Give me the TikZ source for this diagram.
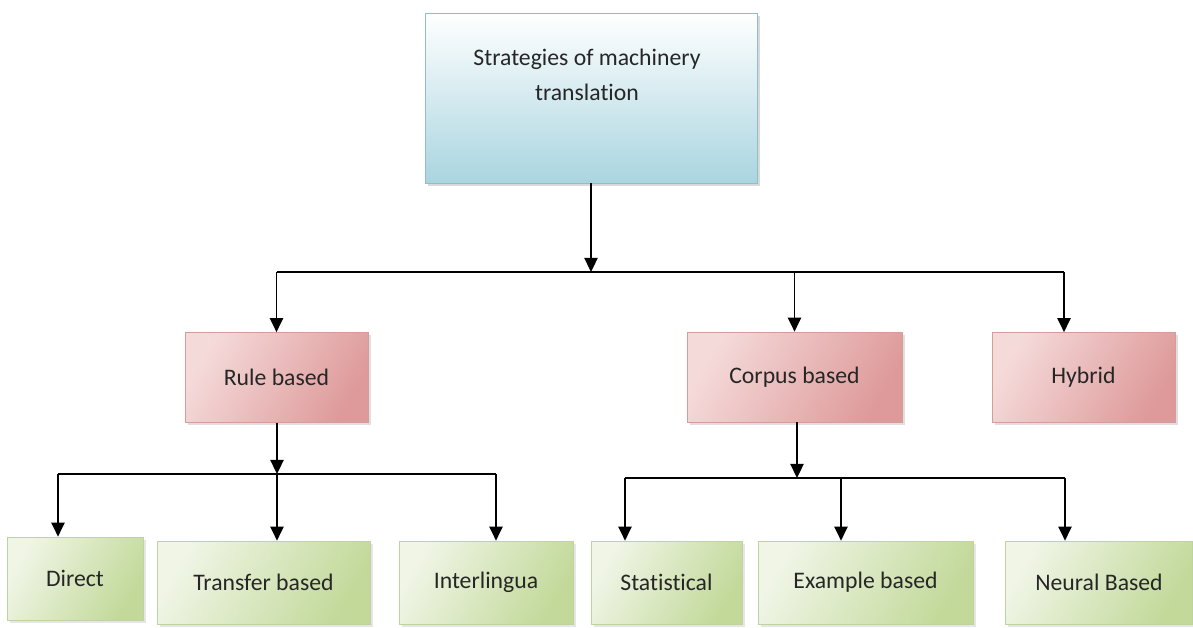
\documentclass[tikz,border=0pt]{standalone}
\usepackage{fontspec}
\setmainfont[Ligatures=NoCommon]{Carlito}
\usetikzlibrary{arrows.meta,shadows}
\definecolor{blueedge}{HTML}{93BCC7}
\definecolor{bluefill}{HTML}{A9D5E0}
\definecolor{pinkedge}{HTML}{D59C9C}
\definecolor{pinklight}{HTML}{F5DADA}
\definecolor{pinkdark}{HTML}{DE9A9A}
\definecolor{greenedge}{HTML}{BFD2A2}
\definecolor{greenlight}{HTML}{F0F5E6}
\definecolor{greendark}{HTML}{C2D99A}
\begin{document}
\begin{tikzpicture}[x=0.02cm, y=-0.02cm,
  font=\fontsize{13.5}{20}\selectfont, text=black!85,
  bluebox/.style={rectangle, draw=blueedge, top color=white, bottom color=bluefill,
    drop shadow={opacity=0.3, shadow xshift=1.5pt, shadow yshift=-1.5pt}},
  pinkbox/.style={rectangle, draw=pinkedge, left color=pinklight, right color=pinkdark,
    shading angle=60, minimum height=1.8cm,
    drop shadow={opacity=0.25, shadow xshift=1.5pt, shadow yshift=-1.5pt}},
  greenbox/.style={rectangle, draw=greenedge, left color=greenlight, right color=greendark,
    shading angle=60, minimum height=1.66cm,
    drop shadow={opacity=0.2, shadow xshift=1.5pt, shadow yshift=-1.5pt}},
  arr/.style={-{Triangle[width=7.5pt,length=8pt]}, line width=1pt},
  bus/.style={line width=1pt}]
\useasboundingbox (0,0) rectangle (1193,627);
\node[bluebox, minimum width=6.64cm, minimum height=3.4cm] (mt0) at (591,98){};
\node[align=center] (mt0t) at (587,75){Strategies of machinery\\translation};
\node[pinkbox, minimum width=3.66cm] (mt1) at (276.5,377.5){Rule based};
\node[pinkbox, minimum width=4.3cm] (mt2) at (794.5,377){Corpus based};
\node[pinkbox, minimum width=3.66cm] (mt3) at (1083.5,377.5){Hybrid};
\node[greenbox, minimum width=2.72cm] (mt4) at (75,578.5){Direct};
\node[greenbox, minimum width=4.26cm] (mt5) at (263.5,582.5){Transfer based};
\node[greenbox, minimum width=3.48cm] (mt6) at (486,582.5){Interlingua};
\node[greenbox, minimum width=3.02cm] (mt7) at (666.5,582.5){Statistical};
\node[greenbox, minimum width=4.3cm] (mt8) at (865.5,582.5){Example based};
\node[greenbox, minimum width=3.74cm] (mt9) at (1099,582.5){Neural Based};
\coordinate (j0) at (591,272);
\coordinate (j0r) at (1064,272);
\draw[arr](mt0) -- (j0);
\draw[bus](mt1.north |- j0) -- (j0r);
\draw[arr](mt1.north |- j0) -- (mt1);
\draw[arr](mt2.north |- j0) -- (mt2);
\draw[arr](j0r) -- (j0r |- mt3.north);
\coordinate (j1) at (277,474);
\coordinate (j1l) at (58,474);
\coordinate (j1r) at (496,474);
\draw[arr](j1 |- mt1.south) -- (j1);
\draw[bus](j1l) -- (j1r);
\draw[arr](j1l) -- (j1l |- mt4.north);
\draw[arr](j1) -- (j1 |- mt5.north);
\draw[arr](j1r) -- (j1r |- mt6.north);
\coordinate (j2) at (797,478);
\coordinate (j2l) at (625,478);
\coordinate (j2m) at (841,478);
\coordinate (j2r) at (1065,478);
\draw[arr](j2 |- mt2.south) -- (j2);
\draw[bus](j2l) -- (j2r);
\draw[arr](j2l) -- (j2l |- mt7.north);
\draw[arr](j2m) -- (j2m |- mt8.north);
\draw[arr](j2r) -- (j2r |- mt9.north);
\end{tikzpicture}
\end{document}
